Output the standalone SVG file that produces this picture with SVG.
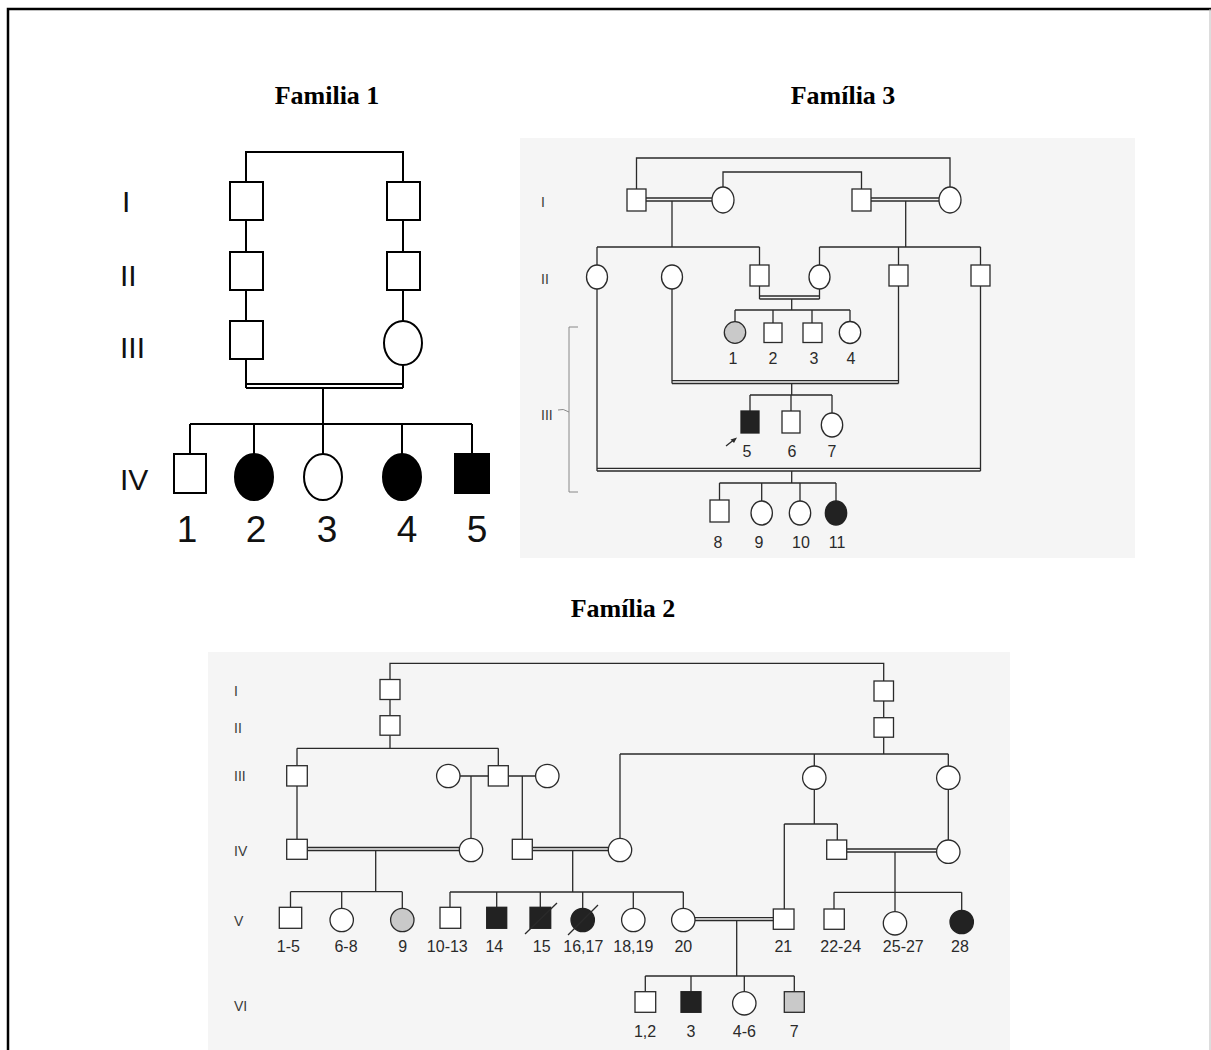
<svg xmlns="http://www.w3.org/2000/svg" width="1211" height="1050" viewBox="0 0 1211 1050">
<style>
.f1 { fill: #fff; stroke: #000; stroke-width: 2; }
.f1b { fill: #000; stroke: #000; stroke-width: 2; }
.c1 { fill: none; stroke: #000; stroke-width: 2; }
.n { fill: #fff; stroke: #2a2a2a; stroke-width: 1.3; }
.nb { fill: #222; stroke: #222; stroke-width: 1.3; }
.ng { fill: #c9c9c9; stroke: #2a2a2a; stroke-width: 1.3; }
.c { fill: none; stroke: #2a2a2a; stroke-width: 1.3; }
.title { font-family: "Liberation Serif", "Times New Roman", serif; font-weight: bold; font-size: 26px; fill: #000; text-anchor: middle; }
.lab1 { font-family: "Liberation Sans", Arial, sans-serif; font-size: 37px; fill: #111; text-anchor: middle; }
.rom1 { font-family: "Liberation Sans", Arial, sans-serif; font-size: 30px; fill: #111; }
.lab { font-family: "Liberation Sans", Arial, sans-serif; font-size: 16px; fill: #2a2a2a; text-anchor: middle; }
.rom { font-family: "Liberation Sans", Arial, sans-serif; font-size: 14px; fill: #3a3a3a; }
</style>

<!-- frame and panels -->
<path d="M8,1050 V9 H1211" fill="none" stroke="#000" stroke-width="2.5"/>
<path d="M1210,9 V1050" fill="none" stroke="#bbb" stroke-width="1"/>
<rect x="520" y="138" width="615" height="420" fill="#f5f5f5"/>
<rect x="208" y="652" width="802" height="398" fill="#f5f5f5"/>

<!-- titles -->
<text class="title" x="327" y="104">Familia 1</text>
<text class="title" x="843" y="104">Família 3</text>
<text class="title" x="623" y="617">Família 2</text>

<!-- ===================== Family 1 ===================== -->
<g id="f1-generations">
<text class="rom1" x="122" y="212">I</text>
<text class="rom1" x="120" y="286">II</text>
<text class="rom1" x="120" y="358">III</text>
<text class="rom1" x="120" y="490">IV</text>
</g>
<g id="f1-connectors">
<path class="c1" d="M246,182 V152 H403 V182"/>
<path class="c1" d="M246,220 V252 M403,220 V252 M246,290 V321 M403,290 V321"/>
<path class="c1" d="M246,359 V388 M403,365 V388"/>
<path class="c1" d="M246,384 H403 M246,388 H403" stroke-width="1.6"/>
<path class="c1" d="M323,388 V424 M190,424 H472"/>
<path class="c1" d="M190,424 V454 M254,424 V454 M323,424 V454 M402,424 V454 M472,424 V454"/>
</g>
<g id="f1-I-1"><rect class="f1" x="230" y="182" width="33" height="38"/></g>
<g id="f1-I-2"><rect class="f1" x="387" y="182" width="33" height="38"/></g>
<g id="f1-II-1"><rect class="f1" x="230" y="252" width="33" height="38"/></g>
<g id="f1-II-2"><rect class="f1" x="387" y="252" width="33" height="38"/></g>
<g id="f1-III-1"><rect class="f1" x="230" y="321" width="33" height="38"/></g>
<g id="f1-III-2"><ellipse class="f1" cx="403" cy="343" rx="19" ry="22"/></g>
<g id="f1-IV-1"><rect class="f1" x="174" y="454" width="32" height="39"/><text class="lab1" x="187" y="542">1</text></g>
<g id="f1-IV-2"><ellipse class="f1b" cx="254" cy="477" rx="19" ry="23"/><text class="lab1" x="256" y="542">2</text></g>
<g id="f1-IV-3"><ellipse class="f1" cx="323" cy="477" rx="19" ry="23"/><text class="lab1" x="327" y="542">3</text></g>
<g id="f1-IV-4"><ellipse class="f1b" cx="402" cy="477" rx="19" ry="23"/><text class="lab1" x="407" y="542">4</text></g>
<g id="f1-IV-5"><rect class="f1b" x="455" y="454" width="34" height="39"/><text class="lab1" x="477" y="542">5</text></g>

<!-- ===================== Family 3 ===================== -->
<g id="f3-generations">
<text class="rom" x="541" y="207" font-size="15">I</text>
<text class="rom" x="541" y="284" font-size="15">II</text>
<text class="rom" x="541" y="420" font-size="15">III</text>
<path d="M558,410 Q563,408 569,412 M578,327 H569 V492 H578" fill="none" stroke="#888" stroke-width="1"/>
</g>
<g id="f3-connectors">
<path class="c" d="M636.5,189 V158 H950 V187"/>
<path class="c" d="M723,187 V172 H861.5 V189"/>
<path class="c" d="M646,198 H712 M646,201 H712 M871,198 H939 M871,201 H939"/>
<path class="c" d="M672,201 V247 M905.7,201 V247"/>
<path class="c" d="M597,247 H759.5 M597,247 V265 M759.5,247 V265"/>
<path class="c" d="M819.5,247 H980.5 M819.5,247 V265 M898.5,247 V265 M980.5,247 V265"/>
<path class="c" d="M759.5,286 V299 M819.5,289 V299 M759.5,296 H819.5 M759.5,299 H819.5"/>
<path class="c" d="M791.7,299 V310 M735,310 H850 M735,310 V322 M773,310 V323 M812,310 V323 M850,310 V321.5"/>
<path class="c" d="M672,289 V383.5 M898.5,286 V383.5 M672,380.7 H898.5 M672,383.5 H898.5"/>
<path class="c" d="M791.7,383.5 V395 M750,395 H832 M750,395 V411 M791,395 V411 M832,395 V413"/>
<path class="c" d="M597,289 V471 M980.5,286 V471 M597,468.3 H980.5 M597,471 H980.5"/>
<path class="c" d="M791.7,471 V483 M719.5,483 H836 M719.5,483 V500 M761.7,483 V501 M800,483 V501 M836,483 V501"/>
<path d="M726,446 L733,440.5" fill="none" stroke="#2a2a2a" stroke-width="1.3"/>
<polygon points="737,437.5 730.5,439.5 734,443" fill="#2a2a2a"/>
</g>
<g id="f3-I-1"><rect class="n" x="627" y="189" width="19" height="22"/></g>
<g id="f3-I-2"><ellipse class="n" cx="723" cy="200" rx="11" ry="13"/></g>
<g id="f3-I-3"><rect class="n" x="852" y="189" width="19" height="22"/></g>
<g id="f3-I-4"><ellipse class="n" cx="950" cy="200" rx="11" ry="13"/></g>
<g id="f3-II-1"><ellipse class="n" cx="597" cy="277" rx="10.5" ry="12"/></g>
<g id="f3-II-2"><ellipse class="n" cx="672" cy="277" rx="10.5" ry="12"/></g>
<g id="f3-II-3"><rect class="n" x="750" y="265" width="19" height="21"/></g>
<g id="f3-II-4"><ellipse class="n" cx="819.5" cy="277" rx="10.5" ry="12"/></g>
<g id="f3-II-5"><rect class="n" x="889" y="265" width="19" height="21"/></g>
<g id="f3-II-6"><rect class="n" x="971" y="265" width="19" height="21"/></g>
<g id="f3-III-1"><ellipse class="ng" cx="735" cy="332.5" rx="10.7" ry="10.8"/><text class="lab" x="733" y="364">1</text></g>
<g id="f3-III-2"><rect class="n" x="764" y="323" width="18" height="19.5"/><text class="lab" x="773" y="364">2</text></g>
<g id="f3-III-3"><rect class="n" x="803" y="323" width="19" height="19.5"/><text class="lab" x="814" y="364">3</text></g>
<g id="f3-III-4"><ellipse class="n" cx="850" cy="332.5" rx="10.7" ry="11"/><text class="lab" x="851" y="364">4</text></g>
<g id="f3-III-5"><rect class="nb" x="741" y="411" width="18" height="22"/><text class="lab" x="747" y="457">5</text></g>
<g id="f3-III-6"><rect class="n" x="782" y="411" width="18" height="22"/><text class="lab" x="792" y="457">6</text></g>
<g id="f3-III-7"><ellipse class="n" cx="832" cy="425" rx="10.7" ry="12"/><text class="lab" x="832" y="457">7</text></g>
<g id="f3-IV-8"><rect class="n" x="710" y="500" width="19" height="22"/><text class="lab" x="718" y="548">8</text></g>
<g id="f3-IV-9"><ellipse class="n" cx="761.7" cy="513" rx="10.7" ry="12"/><text class="lab" x="759" y="548">9</text></g>
<g id="f3-IV-10"><ellipse class="n" cx="800" cy="513" rx="10.7" ry="12"/><text class="lab" x="801" y="548">10</text></g>
<g id="f3-IV-11"><ellipse class="nb" cx="836" cy="513" rx="10.7" ry="12"/><text class="lab" x="837" y="548">11</text></g>

<!-- ===================== Family 2 ===================== -->
<g id="f2-generations">
<text class="rom" x="234" y="696">I</text>
<text class="rom" x="234" y="733">II</text>
<text class="rom" x="234" y="781">III</text>
<text class="rom" x="234" y="856">IV</text>
<text class="rom" x="234" y="926">V</text>
<text class="rom" x="234" y="1011">VI</text>
</g>
<g id="f2-connectors">
<path class="c" d="M390,679.5 V663.3 H883.7 V681"/>
<path class="c" d="M390,699.5 V715.7 M883.7,701 V717.7"/>
<path class="c" d="M390,735.2 V748.3 M297,748.3 H498.3 M297,748.3 V765.7 M498.3,748.3 V765.7"/>
<path class="c" d="M460,776 H488.3 M508.3,776 H535.6"/>
<path class="c" d="M471,776 V838.3 M522.3,776 V839.3 M297,786 V839.3"/>
<path class="c" d="M307.3,847.5 H459.3 M307.3,850.5 H459.3 M532.3,847.5 H608.3 M532.3,850.5 H608.3"/>
<path class="c" d="M883.7,737.3 V754 M620,754 H948.3 M620,754 V838.3 M814.3,754 V766 M948.3,754 V766"/>
<path class="c" d="M814.3,789.4 V824 M784.3,824 H837.3 M784.3,824 V909 M837.3,824 V840"/>
<path class="c" d="M948.3,789.4 V840 M846.7,849 H936.6 M846.7,852 H936.6"/>
<path class="c" d="M375.7,850.5 V891.7 M290.5,891.7 H402.3 M290.5,891.7 V907.3 M341.7,891.7 V908.3 M402.3,891.7 V908.3"/>
<path class="c" d="M572.7,850.5 V892 M450,892 H683.3 M450,892 V907.3 M496.7,892 V907.3 M540.3,892 V907.3 M582.7,892 V908.3 M633.3,892 V908.3 M683.3,892 V908.3"/>
<path class="c" d="M895,852 V892.3 M834,892.3 H961.7 M834,892.3 V909 M895,892.3 V911.6 M961.7,892.3 V910.3"/>
<path class="c" d="M695,917.7 H773.3 M695,920.5 H773.3 M736.7,920.5 V976"/>
<path class="c" d="M645.3,976 H794.3 M645.3,976 V991.7 M691,976 V991.7 M744.3,976 V991.6 M794.3,976 V991.7"/>
</g>
<g id="f2-I-1"><rect class="n" x="380" y="679.5" width="20" height="20"/></g>
<g id="f2-I-2"><rect class="n" x="874" y="681" width="19.5" height="20"/></g>
<g id="f2-II-1"><rect class="n" x="380" y="715.7" width="20" height="19.5"/></g>
<g id="f2-II-2"><rect class="n" x="874" y="717.7" width="19.5" height="19.5"/></g>
<g id="f2-III-1"><rect class="n" x="286.7" y="765.7" width="20.6" height="20.3"/></g>
<g id="f2-III-2"><circle class="n" cx="448.3" cy="776" r="11.7"/></g>
<g id="f2-III-3"><rect class="n" x="488.3" y="765.7" width="20" height="20.3"/></g>
<g id="f2-III-4"><circle class="n" cx="547.3" cy="776" r="11.7"/></g>
<g id="f2-III-5"><circle class="n" cx="814.3" cy="777.7" r="11.7"/></g>
<g id="f2-III-6"><circle class="n" cx="948.3" cy="777.7" r="11.7"/></g>
<g id="f2-IV-1"><rect class="n" x="286.7" y="839.3" width="20.6" height="20"/></g>
<g id="f2-IV-2"><circle class="n" cx="471" cy="850" r="11.7"/></g>
<g id="f2-IV-3"><rect class="n" x="512.3" y="839.3" width="20" height="20"/></g>
<g id="f2-IV-4"><circle class="n" cx="620" cy="850" r="11.7"/></g>
<g id="f2-IV-5"><rect class="n" x="826.7" y="840" width="20" height="19.3"/></g>
<g id="f2-IV-6"><circle class="n" cx="948.3" cy="851.7" r="11.7"/></g>
<g id="f2-V-1-5"><rect class="n" x="279.3" y="907.3" width="22.4" height="21"/><text class="lab" x="288.3" y="951.7">1-5</text></g>
<g id="f2-V-6-8"><circle class="n" cx="341.7" cy="920" r="11.7"/><text class="lab" x="346" y="951.7">6-8</text></g>
<g id="f2-V-9"><circle class="ng" cx="402.3" cy="920" r="11.7"/><text class="lab" x="402.7" y="951.7">9</text></g>
<g id="f2-V-10-13"><rect class="n" x="440" y="907.3" width="20.7" height="21"/><text class="lab" x="447.3" y="951.7">10-13</text></g>
<g id="f2-V-14"><rect class="nb" x="486.7" y="907.3" width="20" height="21"/><text class="lab" x="494.3" y="951.7">14</text></g>
<g id="f2-V-15"><rect class="nb" x="530" y="907.3" width="20.7" height="21"/><path class="c" d="M525,934 L557,903"/><text class="lab" x="541.7" y="951.7">15</text></g>
<g id="f2-V-16-17"><circle class="nb" cx="582.7" cy="920" r="11.7"/><path class="c" d="M568,935 L598,905"/><text class="lab" x="583.3" y="951.7">16,17</text></g>
<g id="f2-V-18-19"><circle class="n" cx="633.3" cy="920" r="11.7"/><text class="lab" x="633.3" y="951.7">18,19</text></g>
<g id="f2-V-20"><circle class="n" cx="683.3" cy="920" r="11.7"/><text class="lab" x="683.3" y="951.7">20</text></g>
<g id="f2-V-21"><rect class="n" x="773.3" y="909" width="20.7" height="20.3"/><text class="lab" x="783.3" y="951.7">21</text></g>
<g id="f2-V-22-24"><rect class="n" x="824" y="909" width="20.3" height="20.3"/><text class="lab" x="840.7" y="951.7">22-24</text></g>
<g id="f2-V-25-27"><circle class="n" cx="895" cy="923.3" r="11.7"/><text class="lab" x="903.3" y="951.7">25-27</text></g>
<g id="f2-V-28"><circle class="nb" cx="961.7" cy="922" r="11.7"/><text class="lab" x="960" y="951.7">28</text></g>
<g id="f2-VI-1-2"><rect class="n" x="635" y="991.7" width="20.7" height="20.6"/><text class="lab" x="645" y="1036.7">1,2</text></g>
<g id="f2-VI-3"><rect class="nb" x="681" y="991.7" width="20" height="20.6"/><text class="lab" x="691" y="1036.7">3</text></g>
<g id="f2-VI-4-6"><circle class="n" cx="744.3" cy="1003.3" r="11.7"/><text class="lab" x="744.3" y="1036.7">4-6</text></g>
<g id="f2-VI-7"><rect class="ng" x="784.3" y="991.7" width="20" height="20.6"/><text class="lab" x="794.3" y="1036.7">7</text></g>
</svg>
